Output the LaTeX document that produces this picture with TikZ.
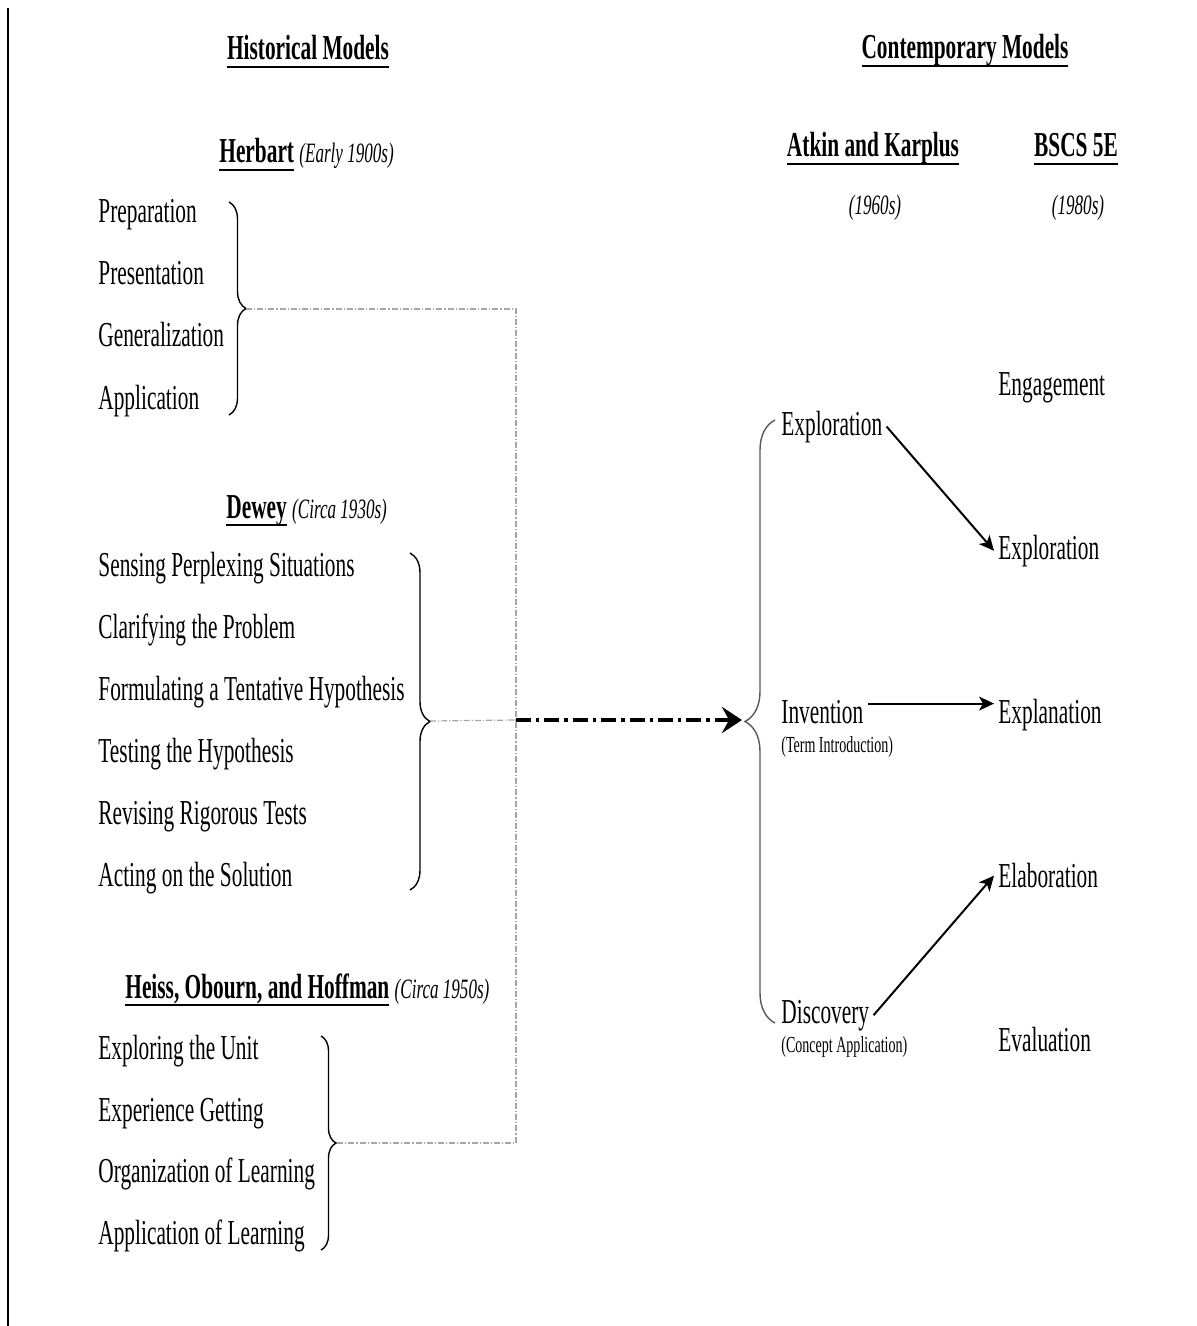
\documentclass[tikz,border=0pt]{standalone}
\usepackage{fontspec}
\setmainfont{Liberation Serif}[FakeStretch=0.61]
\usetikzlibrary{arrows.meta,decorations.pathreplacing}
\newsavebox{\headbox}
\newcommand{\ulhead}[1]{\sbox{\headbox}{\bfseries #1}\rlap{\rule[-4pt]{\wd\headbox}{1pt}}\usebox{\headbox}}
\newcommand{\era}[1]{{\fontsize{14}{17}\selectfont\itshape #1}}
\tikzset{
  item/.style={anchor=base west, inner xsep=2pt, font=\fontsize{17.5}{21}\selectfont},
  head/.style={anchor=base, inner xsep=2pt, font=\fontsize{17.5}{21}\selectfont},
  note/.style={anchor=base west, inner xsep=2pt, font=\fontsize{11.5}{14}\selectfont},
  curly/.style={decorate, decoration={brace, amplitude=#1, aspect=0.5}, line width=0.7pt},
  guide/.style={gray!70, line width=0.6pt, dash pattern=on 3pt off 1pt on 0.6pt off 1pt},
  link/.style={-{Stealth[length=7.5pt,width=7pt,inset=2pt]}, line width=1pt},
}
\begin{document}
\begin{tikzpicture}[x=0.5pt, y=-0.5pt]
  \useasboundingbox (0,0) rectangle (1197,1326);
  \draw [line width=1pt] (8,8) -- (8,1326);

  % column titles
  \node [head] (hist) at (308,60) {\ulhead{Historical Models}};
  \node [head] (cont) at (965,59) {\ulhead{Contemporary Models}};

  % historical models
  \node [item] (herb) at (215,163) {\ulhead{Herbart} \era{(Early 1900s)}};
  \foreach \t [count=\i] in {Preparation, Presentation, Generalization, Application}
    \node [item] (herb\i) at (94,161+62*\i) {\t};
  \draw [curly=8.5pt] (229,202) -- (229,415);
  \coordinate (herbtip) at (246,309);

  \node [item] (dew) at (222,518) {\ulhead{Dewey} \era{(Circa 1930s)}};
  \foreach \t [count=\i] in {Sensing Perplexing Situations, Clarifying the Problem,
      Formulating a Tentative Hypothesis, Testing the Hypothesis,
      Revising Rigorous Tests, Acting on the Solution}
    \node [item] (dew\i) at (94,514+62*\i) {\t};
  \draw [curly=10pt] (410,553) -- (410,890);
  \coordinate (dewtip) at (430,721);

  \node [item] (heiss) at (121,998) {\ulhead{Heiss, Obourn, and Hoffman} \era{(Circa 1950s)}};
  \foreach \t [count=\i] in {Exploring the Unit, Experience Getting,
      Organization of Learning, Application of Learning}
    \node [item] (heiss\i) at (94,998+61.5*\i) {\t};
  \draw [curly=7.5pt] (321,1036) -- (321,1250);
  \coordinate (heisstip) at (336,1143);

  % contemporary models
  \node [head] (ak) at (873,157) {\ulhead{Atkin and Karplus}};
  \node [head] (bs) at (1076,157) {\ulhead{BSCS 5E}};
  \node [anchor=base] (akera) at (875,215) {\era{(1960s)}};
  \node [anchor=base] (bsera) at (1078,215) {\era{(1980s)}};

  \node [item] (ak1) at (777,435) {Exploration};
  \node [item] (ak2) at (777,723) {Invention};
  \node [note] (ak2n) at (777,752) {(Term Introduction)};
  \node [item] (ak3) at (777,1023) {Discovery};
  \node [note] (ak3n) at (777,1052) {(Concept Application)};
  \draw [curly=15pt, gray!70!black] (775,1023) -- (775,420);
  \coordinate (aktip) at (742,720);

  \foreach \t [count=\i from 0] in {Engagement, Exploration, Explanation, Elaboration, Evaluation}
    \node [item] (bs\i) at (994,395+164.2*\i) {\t};

  % links
  \coordinate (join) at (516,720);
  \draw [guide] (herbtip) -| (join) |- (heisstip);
  \draw [guide] (dewtip) -- (join);
  \draw [line width=1.7pt, dash pattern=on 7.5pt off 2.5pt on 1.7pt off 2.5pt,
    -{Stealth[length=10pt,width=13pt,inset=3.5pt]}] (join) -- (aktip);

  \draw [link] (ak1.east) -- (bs1.west);
  \draw [link] ([yshift=4pt]ak2.east) -- ([yshift=4pt]ak2.east -| bs2.west);
  \draw [link] (ak3.east) -- (bs3.west);
\end{tikzpicture}
\end{document}
